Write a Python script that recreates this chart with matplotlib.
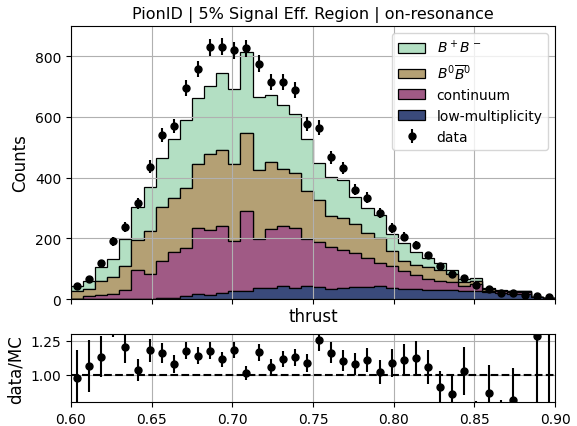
import numpy as np
import matplotlib
matplotlib.use("Agg")
import matplotlib.pyplot as plt

# thrust binning: 40 bins between 0.60 and 0.90
x_lo, x_hi, n_bins = 0.60, 0.90, 40

# MC components per bin (bottom to top of the stack)
low_mult = [0, 0, 0, 0, 0, 0, 1, 3, 5, 10, 16, 14, 22, 27, 27, 37, 38, 43, 38, 43,
            40, 35, 37, 41, 39, 44, 37, 35, 33, 31, 30, 30, 28, 27, 24, 20, 18, 18, 6, 3]
continuum = [2, 11, 13, 17, 29, 97, 82, 124, 152, 160, 219, 214, 220, 166, 265, 162, 193, 197, 197, 155,
             147, 136, 126, 111, 95, 74, 71, 59, 47, 37, 31, 25, 17, 23, 4, 6, 6, 7, 1, 0]
b0b0bar = [24, 23, 48, 56, 81, 99, 141, 177, 177, 196, 209, 250, 248, 253, 256, 226, 222, 188, 180, 159,
           139, 102, 105, 94, 84, 83, 50, 31, 33, 39, 36, 28, 12, 10, 6, 2, 2, 2, 0, 0]
bpbm = [19, 27, 44, 59, 88, 109, 145, 161, 193, 224, 220, 225, 256, 246, 267, 240, 221, 212, 195, 172,
        124, 128, 123, 89, 82, 77, 57, 60, 44, 29, 23, 12, 10, 9, 4, 2, 1, 1, 0, 0]

# observed data per bin
data = [44, 65, 119, 190, 238, 316, 436, 540, 570, 696, 758, 829, 832, 819, 826, 775, 714, 714, 689, 577,
        565, 467, 432, 361, 334, 284, 234, 206, 177, 144, 109, 82, 69, 47, 33, 19, 22, 13, 9, 6]

labels = ["low-multiplicity", "continuum", r"$B^0\overline{B}^0$", r"$B^+B^-$"]
colors = ["#3a4a7b", "#a05a85", "#b4a074", "#b3dfc3"]
legend_order = [r"$B^+B^-$", r"$B^0\overline{B}^0$", "continuum", "low-multiplicity", "data"]


def plot_and_save():
    title = "PionID | 5% Signal Eff. Region | on-resonance"

    edges = np.linspace(x_lo, x_hi, n_bins + 1)
    centers = 0.5 * (edges[1:] + edges[:-1])
    d = np.array(data, dtype=float)
    mc = np.array(low_mult) + np.array(continuum) + np.array(b0b0bar) + np.array(bpbm)

    fig = plt.figure(figsize=(5.77, 4.27), dpi=100)
    ax = fig.add_axes([0.123, 0.297, 0.839, 0.640])
    rax = fig.add_axes([0.123, 0.056, 0.839, 0.159], sharex=ax)

    ax.hist([centers] * 4, bins=edges, weights=[low_mult, continuum, b0b0bar, bpbm],
            stacked=True, histtype="stepfilled", color=colors, edgecolor="black",
            linewidth=0.9, label=labels)
    ax.errorbar(centers, d, yerr=np.sqrt(d), fmt="o", color="black", markersize=5,
                elinewidth=1.5, label="data")

    handles, labs = ax.get_legend_handles_labels()
    lookup = dict(zip(labs, handles))
    ax.legend([lookup[l] for l in legend_order], legend_order, loc="upper right", fontsize=10)

    ax.set_xlim(x_lo, x_hi)
    ax.set_ylim(0, 900)
    ax.set_yticks([0, 200, 400, 600, 800])
    ax.set_ylabel("Counts", fontsize=12)
    ax.set_xlabel("thrust", fontsize=12, labelpad=2)
    ax.set_title(title, fontsize=11.5)
    ax.tick_params(labelbottom=False)
    ax.grid(True)

    # ratio panel
    ratio = d / mc
    ratio_err = ratio * np.sqrt(1.0 / d + 1.0 / mc)
    rax.errorbar(centers, ratio, yerr=ratio_err, fmt="o", color="black", markersize=5, elinewidth=1.5)
    rax.axhline(1.0, color="black", linestyle="--", linewidth=1.5)
    rax.set_ylim(0.8, 1.3)
    rax.set_yticks([1.0, 1.25])
    rax.set_xticks([0.60, 0.65, 0.70, 0.75, 0.80, 0.85, 0.90])
    rax.set_ylabel("data/MC", fontsize=12)
    rax.grid(True)

    fig.savefig("out.png", dpi=100)


if __name__ == "__main__":
    plot_and_save()
